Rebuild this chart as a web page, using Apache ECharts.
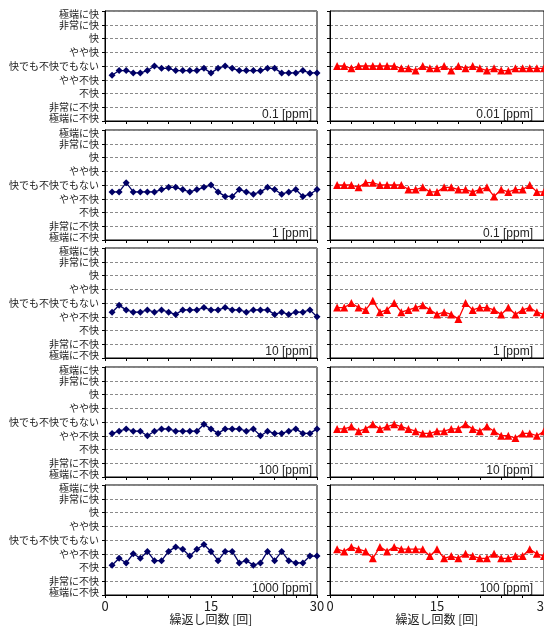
<!DOCTYPE html>
<html>
<head>
<meta charset="utf-8">
<script src="https://cdn.jsdelivr.net/npm/echarts@6/dist/echarts.min.js"></script>
<style>html,body{margin:0;padding:0;background:#fff;}#c{width:544px;height:630px;}</style>
</head>
<body>
<div id="c"></div>
<script>
// Rating scale (bottom -> top)
const levels = ['極端に不快','非常に不快','不快','やや不快','快でも不快でもない','やや快','快','非常に快','極端に快'];
const trials = [1,2,3,4,5,6,7,8,9,10,11,12,13,14,15,16,17,18,19,20,21,22,23,24,25,26,27,28,29,30];
const xTickLabels = [0,15,30];
const leftLabels = ['0.1 [ppm]','1 [ppm]','10 [ppm]','100 [ppm]','1000 [ppm]'];
const rightLabels = ['0.01 [ppm]','0.1 [ppm]','1 [ppm]','10 [ppm]','100 [ppm]'];
const xName = '繰返し回数 [回]';

// Left column (navy diamonds); scale index 0 = 極端に不快 ... 8 = 極端に快
const left_0_1  = [3.33,3.67,3.67,3.5,3.5,3.67,4.0,3.83,3.83,3.67,3.67,3.67,3.67,3.83,3.5,3.83,4.0,3.83,3.67,3.67,3.67,3.67,3.83,3.83,3.5,3.5,3.5,3.67,3.5,3.5];
const left_1    = [3.5,3.5,4.17,3.5,3.5,3.5,3.5,3.67,3.83,3.83,3.67,3.5,3.67,3.83,4.0,3.5,3.17,3.17,3.67,3.5,3.33,3.5,3.83,3.67,3.33,3.5,3.67,3.17,3.33,3.67];
const left_10   = [3.33,3.83,3.5,3.33,3.33,3.5,3.33,3.5,3.33,3.17,3.5,3.5,3.5,3.67,3.5,3.5,3.67,3.5,3.5,3.33,3.5,3.5,3.5,3.17,3.33,3.17,3.33,3.33,3.5,3.0];
const left_100  = [3.17,3.33,3.5,3.33,3.33,3.0,3.33,3.5,3.5,3.33,3.33,3.33,3.33,3.83,3.5,3.17,3.5,3.5,3.5,3.33,3.5,3.0,3.33,3.17,3.17,3.33,3.5,3.17,3.17,3.5];
const left_1000 = [2.17,2.67,2.33,3.0,2.67,3.17,2.5,2.5,3.17,3.5,3.33,2.83,3.33,3.67,3.17,2.5,3.17,3.17,2.33,2.5,2.17,2.33,3.17,2.5,3.17,2.5,2.33,2.33,2.83,2.83];

// Right column (red triangles)
const right_0_01 = [4.0,4.0,3.83,4.0,4.0,4.0,4.0,4.0,4.0,3.83,3.83,3.67,4.0,3.83,3.83,4.0,3.67,4.0,3.83,4.0,3.83,3.67,3.83,3.67,3.67,3.83,3.83,3.83,3.83,3.83];
const right_0_1  = [4.0,4.0,4.0,3.83,4.17,4.17,4.0,4.0,4.0,4.0,3.67,3.67,3.83,3.5,3.5,3.83,3.83,3.67,3.67,3.5,3.67,3.83,3.17,3.67,3.5,3.67,3.67,4.0,3.5,3.5];
const right_1    = [3.67,3.67,4.0,3.67,3.5,4.17,3.33,3.5,4.0,3.33,3.5,3.67,3.83,3.5,3.17,3.33,3.17,2.83,4.0,3.5,3.67,3.67,3.5,3.17,3.67,3.17,3.5,3.67,3.33,3.17];
const right_10   = [3.5,3.5,3.67,3.33,3.5,3.83,3.5,3.67,3.83,3.67,3.5,3.33,3.17,3.17,3.33,3.33,3.5,3.5,3.83,3.5,3.33,3.67,3.33,3.0,3.0,2.83,3.17,3.17,3.0,3.33];
const right_100  = [3.33,3.17,3.5,3.33,3.17,2.67,3.5,3.17,3.5,3.33,3.33,3.33,3.33,2.83,3.33,2.67,2.83,2.67,3.0,2.83,2.67,2.67,3.0,2.67,2.67,2.83,2.83,3.33,3.0,2.83];

const leftSeries = [left_0_1, left_1, left_10, left_100, left_1000];
const rightSeries = [right_0_01, right_0_1, right_1, right_10, right_100];

const tops = [11, 130, 248, 367, 485];
const H = 110;
const cols = [{left:105, width:212, color:'#000066', symbol:'diamond', size:7, data:leftSeries, labels:leftLabels, labelX:312},
              {left:330, width:214, color:'#ff0000', symbol:'triangle', size:8, data:rightSeries, labelX:533, labels:rightLabels}];

const grids=[], xAxes=[], yAxes=[], series=[], graphics=[];
const font = '"Noto Sans CJK JP", "Liberation Sans", sans-serif';
let k=0;
cols.forEach((col, ci) => {
  tops.forEach((top, ri) => {
    const bottomRow = ri === tops.length-1;
    grids.push({left:col.left, top:top, width:col.width, height:H, show:true, borderColor:'#000', borderWidth:1,
      backgroundColor:'transparent', containLabel:false, outerBoundsMode:'none'});
    xAxes.push({
      type:'value', gridIndex:k, min:0, max:30, interval:3,
      axisLine:{show:true, onZero:false, lineStyle:{color:'#000', width:1}},
      axisTick:{show:true, inside:false, length:3, lineStyle:{color:'#000'}},
      splitLine:{show:false},
      axisLabel:{show:bottomRow, margin:5, fontSize:13, color:'#222', fontFamily:font,
        formatter: v => xTickLabels.indexOf(v) >= 0 ? String(v) : ''},
      name: bottomRow ? xName : '', nameLocation:'middle', nameGap:18,
      nameTextStyle:{fontSize:12, color:'#222', fontFamily:font}
    });
    yAxes.push({
      type:'value', gridIndex:k, min:0, max:8, interval:1,
      axisLine:{show:true, lineStyle:{color:'#000', width:1}},
      axisTick:{show:true, inside:false, length:3, lineStyle:{color:'#000'}},
      splitLine:{show:true, lineStyle:{color:'#8a8a8a', type:[3,2], width:1}},
      axisLabel:{show: ci===0, margin:6, fontSize:10, color:'#222', fontFamily:font,
        formatter: v => {
          const t = levels[v] || '';
          if (v === 8) return '{mx|' + t + '}';
          if (v === 0) return '{mn|' + t + '}';
          return t;
        },
        rich:{
          mx:{fontSize:10, color:'#222', fontFamily:font, padding:[6,0,0,0]},
          mn:{fontSize:10, color:'#222', fontFamily:font, padding:[0,0,6,0]}
        }
      }
    });
    const vals = col.data[ri];
    series.push({
      type:'line', xAxisIndex:k, yAxisIndex:k,
      data: trials.map((t,i)=>[t, vals[i]]),
      symbol: col.symbol, symbolSize: col.size, showAllSymbol:true,
      lineStyle:{color:col.color, width:1.3},
      itemStyle:{color:col.color},
      clip:false, animation:false, silent:true
    });
    graphics.push({type:'text', x:col.labelX, y:top+H-6.5,
      style:{text:col.labels[ri], align:'right', verticalAlign:'middle', fill:'#222', font:'12px "Liberation Sans", Arial, sans-serif'}});
    k++;
  });
});

const chart = echarts.init(document.getElementById('c'), null, {renderer:'canvas'});
chart.setOption({
  animation:false,
  backgroundColor:'#fff',
  grid:grids, xAxis:xAxes, yAxis:yAxes, series:series,
  graphic: graphics
});
</script>
</body>
</html>
